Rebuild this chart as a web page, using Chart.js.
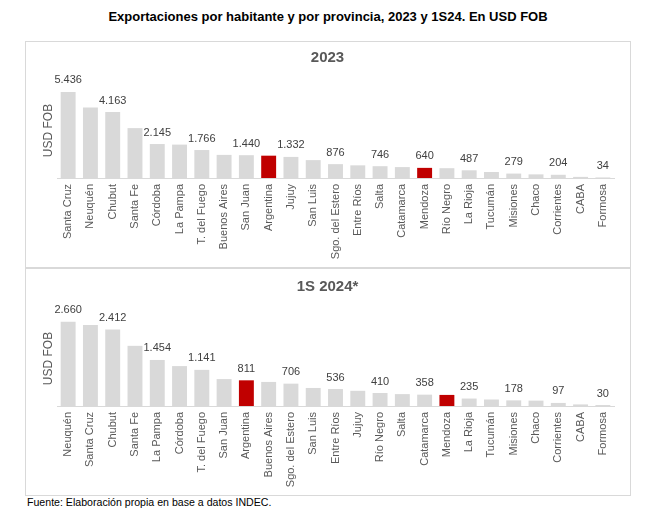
<!DOCTYPE html>
<html>
<head>
<meta charset="utf-8">
<script src="https://cdn.jsdelivr.net/npm/chart.js@4.4.1/dist/chart.umd.min.js"></script>
<style>
  html, body { margin:0; padding:0; background:#fff; }
  body { width:650px; height:510px; position:relative; overflow:hidden; font-family:'Liberation Sans', Arial, sans-serif; }
  #title { position:absolute; left:0; width:656px; top:9px; text-align:center; font-weight:bold; font-size:13px; color:#000; }
  #box { position:absolute; left:25px; top:41px; width:606px; height:455px; box-sizing:border-box; border:1px solid #d9d9d9; }
  #divider { position:absolute; left:25px; top:267px; width:606px; height:2px; background:#d9d9d9; }
  canvas { position:absolute; left:25px; }
  #c1 { top:41px; }
  #c2 { top:268px; }
  #foot { position:absolute; left:27px; top:496px; font-size:10.6px; color:#000; }
</style>
</head>
<body>
<div id="title">Exportaciones por habitante y por provincia, 2023 y 1S24. En USD FOB</div>
<div id="box"></div>
<div id="divider"></div>
<canvas id="c1" width="605" height="227" style="width:605px;height:227px"></canvas>
<canvas id="c2" width="605" height="227" style="width:605px;height:227px"></canvas>
<div id="foot">Fuente: Elaboración propia en base a datos INDEC.</div>
<script>
const categories2023 = ["Santa Cruz","Neuquén","Chubut","Santa Fe","Córdoba","La Pampa","T. del Fuego","Buenos Aires","San Juan","Argentina","Jujuy","San Luis","Sgo. del Estero","Entre Ríos","Salta","Catamarca","Mendoza","Río Negro","La Rioja","Tucumán","Misiones","Chaco","Corrientes","CABA","Formosa"];
const values2023 = [5436,4450,4163,3150,2145,2110,1766,1460,1440,1410,1332,1130,876,800,746,690,640,620,487,380,279,230,204,70,34];

const categories2024 = ["Neuquén","Santa Cruz","Chubut","Santa Fe","La Pampa","Córdoba","T. del Fuego","San Juan","Argentina","Buenos Aires","Sgo. del Estero","San Luis","Entre Ríos","Jujuy","Río Negro","Salta","Catamarca","Mendoza","La Rioja","Tucumán","Misiones","Chaco","Corrientes","CABA","Formosa"];
const values2024 = [2660,2555,2412,1900,1454,1260,1141,850,811,760,706,570,536,480,410,375,358,350,235,205,178,170,97,50,30];

const highlighted = ["Argentina","Mendoza"];
const panelTitles = ["2023","1S 2024*"];
const axisTitle = "USD FOB";
const yMax = [6000, 3000];

Chart.defaults.font.family = "'Liberation Sans', Arial, sans-serif";

function fmt(v){ return String(v).replace(/\B(?=(\d{3})+(?!\d))/g, '.'); }

const labelPlugin = {
  id: 'evenLabels',
  afterDatasetsDraw(chart) {
    const ctx = chart.ctx;
    const meta = chart.getDatasetMeta(0);
    const data = chart.data.datasets[0].data;
    ctx.save();
    ctx.font = "11px 'Liberation Sans', Arial, sans-serif";
    ctx.fillStyle = '#404040';
    ctx.textAlign = 'center';
    ctx.textBaseline = 'bottom';
    meta.data.forEach((bar, i) => {
      if (i % 2 === 0) ctx.fillText(fmt(data[i]), bar.x, bar.y - 6);
    });
    ctx.restore();
  }
};

function makeChart(id, cats, vals, title, max, titlePad, xHeight) {
  new Chart(document.getElementById(id), {
    type: 'bar',
    data: {
      labels: cats,
      datasets: [{
        data: vals,
        backgroundColor: cats.map(c => highlighted.includes(c) ? '#c00000' : '#d9d9d9'),
        borderWidth: 0,
        barPercentage: 0.67,
        categoryPercentage: 1
      }]
    },
    options: {
      responsive: false,
      animation: false,
      layout: { padding: 0 },
      plugins: {
        legend: { display: false },
        tooltip: { enabled: false },
        title: {
          display: true,
          text: title,
          color: '#595959',
          font: { size: 15, weight: 'bold' },
          padding: titlePad
        }
      },
      scales: {
        x: {
          grid: { display: false, drawTicks: false },
          border: { display: true, color: '#d9d9d9', width: 1 },
          ticks: {
            autoSkip: false, minRotation: 90, maxRotation: 90,
            color: '#595959', font: { size: 11 }, padding: 6
          },
          afterFit(scale) { scale.height = xHeight; }
        },
        y: {
          min: 0, max: max,
          grid: { display: false, drawTicks: false },
          border: { display: false },
          ticks: { display: false },
          title: {
            display: true, text: axisTitle, color: '#595959',
            font: { size: 12 }, padding: { top: 16, bottom: 0 }
          },
          afterFit(scale) { scale.width = 32; }
        },
        yRight: {
          position: 'right',
          display: true,
          min: 0, max: max,
          grid: { display: false, drawTicks: false },
          border: { display: false },
          ticks: { display: false },
          afterFit(scale) { scale.width = 16; }
        }
      }
    },
    plugins: [labelPlugin]
  });
}

makeChart('c1', categories2023, values2023, panelTitles[0], yMax[0], { top: 8, bottom: 16 }, 90);
makeChart('c2', categories2024, values2024, panelTitles[1], yMax[1], { top: 10, bottom: 15 }, 89);
</script>
</body>
</html>
